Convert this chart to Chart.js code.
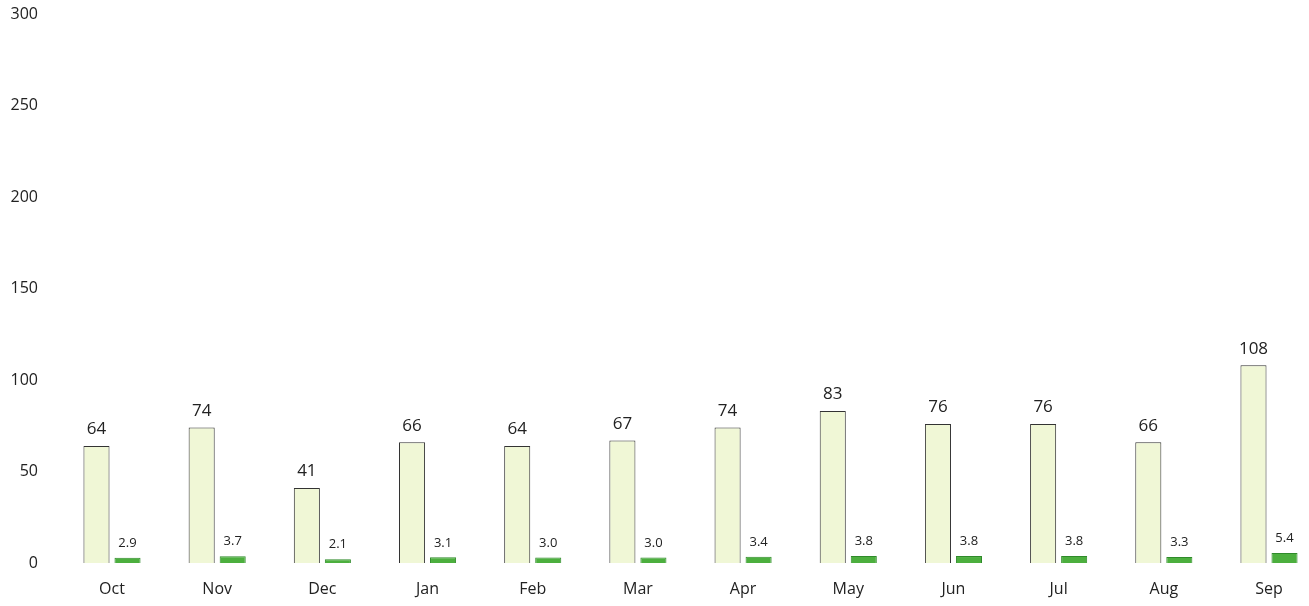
<!DOCTYPE html>
<html>
<head>
<meta charset="utf-8">
<script src="https://cdn.jsdelivr.net/npm/chart.js@4/dist/chart.umd.min.js"></script>
<style>
  html, body { margin: 0; padding: 0; background: #ffffff; overflow: hidden; }
  #wrap { width: 1309px; height: 606px; }
</style>
</head>
<body>
<div id="wrap"><canvas id="monthChart"></canvas></div>
<script>
var months = ["Oct", "Nov", "Dec", "Jan", "Feb", "Mar", "Apr", "May", "Jun", "Jul", "Aug", "Sep"];
var seriesA = [64, 74, 41, 66, 64, 67, 74, 83, 76, 76, 66, 108];
var seriesB = [2.9, 3.7, 2.1, 3.1, 3.0, 3.0, 3.4, 3.8, 3.8, 3.8, 3.3, 5.4];
var yTicks = [0, 50, 100, 150, 200, 250, 300];

var fontFamily = "'Open Sans', 'Noto Sans', sans-serif";

// draws the value above each bar (no datalabels plugin here)
var valueLabels = {
  id: 'valueLabels',
  afterDatasetsDraw: function(chart) {
    var ctx = chart.ctx;
    ctx.save();
    ctx.fillStyle = '#222222';
    ctx.textAlign = 'center';
    ctx.textBaseline = 'bottom';
    chart.data.datasets.forEach(function(ds, i) {
      var meta = chart.getDatasetMeta(i);
      var size = i === 0 ? 17 : 13;
      var gap = i === 0 ? 8 : 8;
      ctx.font = size + 'px ' + fontFamily;
      meta.data.forEach(function(bar, j) {
        var v = ds.data[j];
        var txt = i === 0 ? String(v) : v.toFixed(1);
        ctx.fillText(txt, bar.x, bar.y - gap);
      });
    });
    ctx.restore();
  }
};

function initChart() {
  var canvas = document.getElementById("monthChart");

  var dataFirst = {
    data: seriesA,
    backgroundColor: '#f0f7d6',
    borderColor: '#333333',
    borderWidth: 1,
    borderSkipped: 'bottom',
    categoryPercentage: 0.59,
    barPercentage: 0.84,
    clip: false
  };

  var dataSecond = {
    data: seriesB,
    backgroundColor: '#4caf3e',
    borderColor: '#2f8a2a',
    borderWidth: 1,
    borderSkipped: 'bottom',
    categoryPercentage: 0.59,
    barPercentage: 0.84,
    clip: false
  };

  new Chart(canvas, {
    type: 'bar',
    data: { labels: months, datasets: [dataFirst, dataSecond] },
    plugins: [valueLabels],
    options: {
      responsive: true,
      maintainAspectRatio: false,
      animation: false,
      layout: { padding: { top: 14, right: 40, left: 0, bottom: 0 } },
      plugins: {
        legend: { display: false },
        tooltip: { enabled: false }
      },
      scales: {
        x: {
          offset: false,
          grid: { display: false, drawTicks: false },
          border: { display: false },
          ticks: {
            color: '#222222',
            padding: 17,
            font: { family: fontFamily, size: 16 }
          },
          afterFit: function(scale) { scale.height = 43; }
        },
        y: {
          min: 0,
          max: 300,
          grid: { display: false, drawTicks: false },
          border: { display: false },
          afterBuildTicks: function(scale) {
            scale.ticks = yTicks.map(function(v) { return { value: v }; });
          },
          ticks: {
            color: '#222222',
            padding: 74,
            font: { family: fontFamily, size: 16 }
          },
          afterFit: function(scale) {
            // big tick padding is only meant horizontally
            scale.width = 112;
            scale.paddingTop = 0;
            scale.paddingBottom = 0;
          }
        }
      }
    }
  });
}

initChart();
</script>
</body>
</html>
